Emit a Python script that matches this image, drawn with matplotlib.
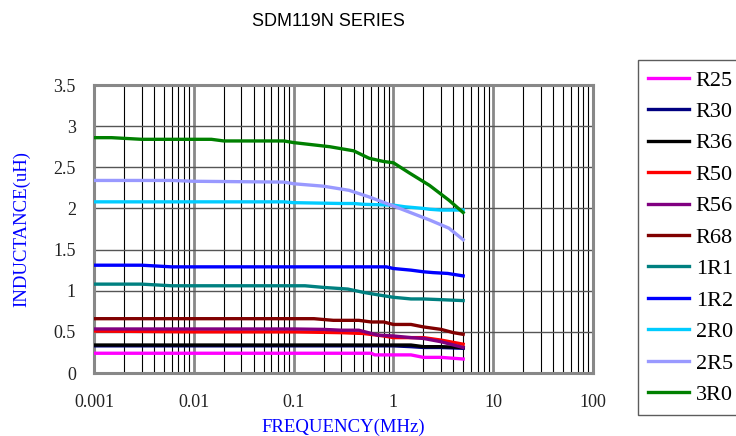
import numpy as np
import matplotlib.pyplot as plt
from matplotlib.ticker import FixedLocator, LogLocator, NullFormatter

# ###########################################################
# Data (frequency in MHz, inductance in uH)
# ###########################################################

series_names = ["R25", "R30", "R36", "R50", "R56", "R68",
                "1R1", "1R2", "2R0", "2R5", "3R0"]
series_colors = ["#FF00FF", "#000080", "#000000", "#FF0000", "#800080", "#800000",
                 "#008080", "#0000FF", "#00CCFF", "#9999FF", "#008000"]

f_r25 = [0.001, 0.01, 0.1, 0.6, 0.65, 1.0, 1.5, 2.0, 3.0, 5.0]
l_r25 = [0.24, 0.24, 0.24, 0.24, 0.22, 0.22, 0.22, 0.19, 0.19, 0.17]

f_r30 = [0.001, 0.01, 0.1, 1.0, 1.5, 2.0, 3.0, 5.0]
l_r30 = [0.33, 0.33, 0.33, 0.33, 0.32, 0.31, 0.31, 0.30]

f_r36 = [0.001, 0.01, 0.1, 1.0, 1.5, 2.0, 3.0, 5.0]
l_r36 = [0.34, 0.34, 0.34, 0.34, 0.34, 0.32, 0.32, 0.31]

f_r50 = [0.001, 0.01, 0.1, 0.3, 0.5, 0.8, 1.0, 2.0, 3.0, 5.0]
l_r50 = [0.51, 0.50, 0.50, 0.49, 0.48, 0.45, 0.43, 0.43, 0.40, 0.35]

f_r56 = [0.001, 0.01, 0.1, 0.2, 0.3, 0.45, 0.7, 1.0, 1.5, 2.0, 3.0, 5.0]
l_r56 = [0.535, 0.535, 0.535, 0.53, 0.52, 0.52, 0.46, 0.45, 0.43, 0.42, 0.38, 0.31]

f_r68 = [0.001, 0.01, 0.1, 0.16, 0.25, 0.45, 0.6, 0.8, 1.0, 1.5, 2.0, 3.0, 4.0, 5.0]
l_r68 = [0.66, 0.66, 0.66, 0.66, 0.64, 0.64, 0.62, 0.62, 0.59, 0.59, 0.56, 0.53, 0.49, 0.47]

f_1r1 = [0.001, 0.003, 0.006, 0.01, 0.1, 0.13, 0.2, 0.35, 0.5, 0.7, 1.0, 1.5, 2.0, 5.0]
l_1r1 = [1.08, 1.08, 1.06, 1.06, 1.06, 1.06, 1.04, 1.02, 0.98, 0.95, 0.92, 0.90, 0.90, 0.88]

f_1r2 = [0.001, 0.003, 0.006, 0.01, 0.1, 0.85, 1.0, 1.5, 2.0, 2.5, 3.5, 5.0]
l_1r2 = [1.31, 1.31, 1.29, 1.29, 1.29, 1.29, 1.27, 1.25, 1.23, 1.22, 1.21, 1.18]

f_2r0 = [0.001, 0.01, 0.08, 0.1, 0.3, 0.4, 0.5, 1.0, 1.3, 2.0, 2.3, 3.0, 5.0]
l_2r0 = [2.08, 2.08, 2.08, 2.07, 2.06, 2.06, 2.05, 2.04, 2.02, 2.00, 1.99, 1.98, 1.98]

f_2r5 = [0.001, 0.006, 0.01, 0.08, 0.1, 0.2, 0.36, 0.57, 1.0, 2.3, 3.6, 5.0]
l_2r5 = [2.34, 2.34, 2.33, 2.32, 2.30, 2.27, 2.22, 2.14, 2.03, 1.86, 1.76, 1.62]

f_3r0 = [0.001, 0.0015, 0.003, 0.015, 0.02, 0.08, 0.1, 0.23, 0.4, 0.57, 0.8, 1.0,
         1.45, 2.3, 3.6, 5.0]
l_3r0 = [2.86, 2.86, 2.84, 2.84, 2.82, 2.82, 2.80, 2.75, 2.70, 2.61, 2.57, 2.555,
         2.43, 2.28, 2.10, 1.95]

series_f = [f_r25, f_r30, f_r36, f_r50, f_r56, f_r68, f_1r1, f_1r2, f_2r0, f_2r5, f_3r0]
series_l = [l_r25, l_r30, l_r36, l_r50, l_r56, l_r68, l_1r1, l_1r2, l_2r0, l_2r5, l_3r0]

xticks = [0.001, 0.01, 0.1, 1, 10, 100]
xtick_labels = ["0.001", "0.01", "0.1", "1", "10", "100"]
yticks = [0, 0.5, 1, 1.5, 2, 2.5, 3, 3.5]
ytick_labels = ["0", "0.5", "1", "1.5", "2", "2.5", "3", "3.5"]

# ###########################################################
# Figure
# ###########################################################

plt.rcParams["font.family"] = ["Liberation Serif", "DejaVu Serif"]

fig = plt.figure(figsize=(7.36, 4.36), dpi=100)
ax = fig.add_axes([94 / 736, 1 - 373 / 436, (593 - 94) / 736, (373 - 85) / 436])

# curves
for name, color, f, l in zip(series_names, series_colors, series_f, series_l):
    ax.plot(f, l, color=color, lw=2.4, label=name, solid_joinstyle="round", zorder=3)

ax.set_xscale("log")
ax.set_xlim(0.001, 100)
ax.set_ylim(0, 3.5)

ax.xaxis.set_major_locator(FixedLocator(xticks))
ax.set_xticklabels(xtick_labels)
ax.xaxis.set_minor_locator(LogLocator(base=10, subs=np.arange(2, 10)))
ax.xaxis.set_minor_formatter(NullFormatter())
ax.set_yticks(yticks)
ax.set_yticklabels(ytick_labels)
ax.tick_params(which="both", length=0, labelsize=13, colors="#222222")
ax.tick_params(axis="x", pad=15)
ax.tick_params(axis="y", pad=13)

# grid
ax.grid(which="minor", axis="x", color="black", lw=0.8, zorder=1)
ax.grid(which="major", axis="x", color="#888888", lw=2.0, zorder=1)
ax.grid(which="major", axis="y", color="#555555", lw=1.0, zorder=1)
ax.set_axisbelow(True)

for sp in ax.spines.values():
    sp.set_color("#888888")
    sp.set_linewidth(2.2)

# labels
ax.set_xlabel("FREQUENCY(MHz)", color="blue", fontsize=13.5, labelpad=6)
ax.set_ylabel("INDUCTANCE(uH)", color="blue", fontsize=13.5, labelpad=17)
fig.text(328 / 736, 1 - 21 / 436, "SDM119N SERIES", ha="center", va="center",
         fontsize=13, family="Liberation Sans")

# legend
leg = fig.legend(loc="upper left", bbox_to_anchor=(638 / 736, 1 - 60 / 436),
                 frameon=True, fancybox=False, fontsize=16, handlelength=1.85,
                 handletextpad=0.3, labelspacing=0.49, borderpad=0.45,
                 borderaxespad=0)
leg.get_frame().set_edgecolor("#333333")
leg.get_frame().set_linewidth(1.0)

fig.savefig("out.png", dpi=100)
